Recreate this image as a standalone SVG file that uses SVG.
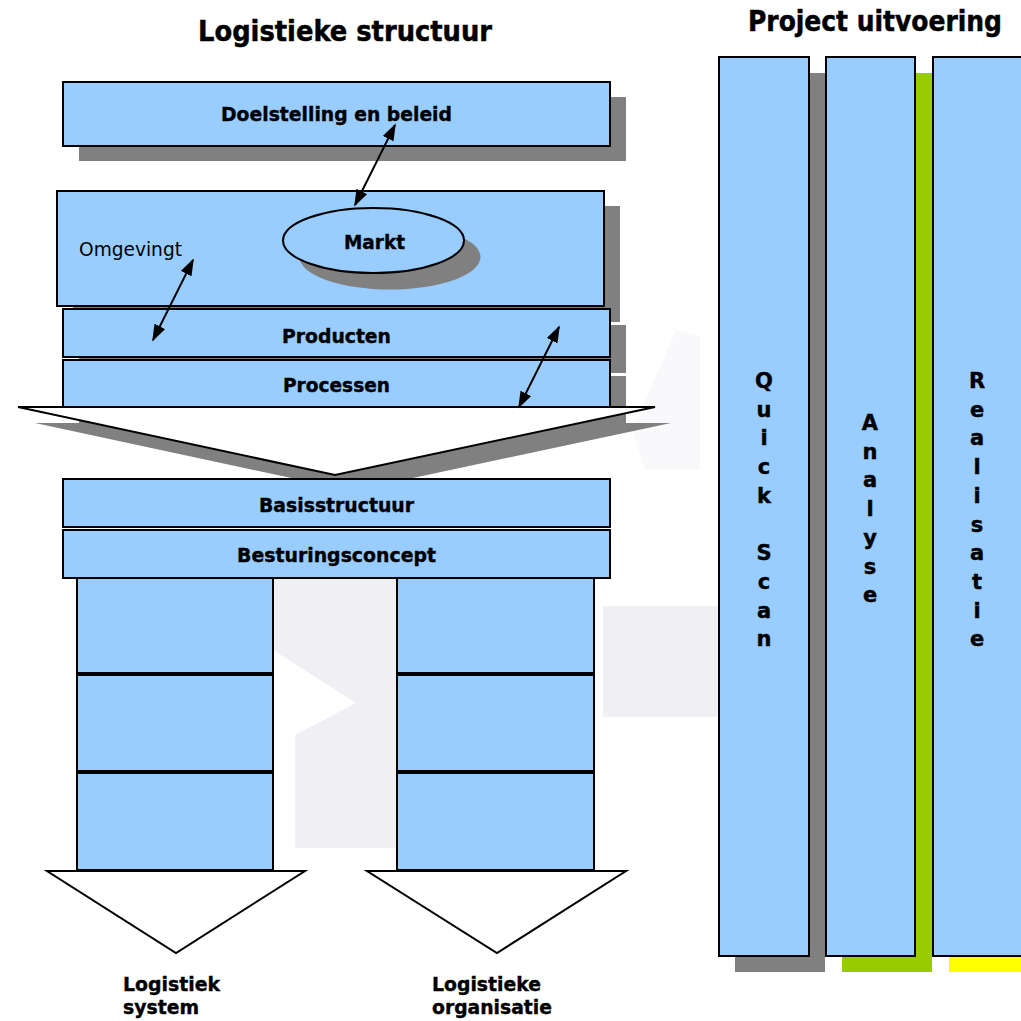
<svg xmlns="http://www.w3.org/2000/svg" width="1021" height="1021" viewBox="0 0 1021 1021">
  <defs>
    <style>
      .box { fill: #99CCFF; stroke: #000; stroke-width: 2; }
      .shadow { fill: #808080; }
      .wm { fill: #F0F0F4; }
      .white { fill: #FFFFFF; stroke: #000; stroke-width: 2; stroke-linejoin: miter; }
      .lbl { font-family: "DejaVu Sans", Verdana, sans-serif; font-weight: bold; font-size: 20px; fill: #000; stroke: #000; stroke-width: 0.4; text-anchor: middle; }
      .lblL { font-family: "DejaVu Sans", Verdana, sans-serif; font-weight: bold; font-size: 20px; fill: #000; stroke: #000; stroke-width: 0.4; }
      .reg { font-family: "DejaVu Sans", Verdana, sans-serif; font-size: 20px; fill: #000; }
      .title { font-family: "DejaVu Sans", Verdana, sans-serif; font-weight: bold; font-size: 28px; fill: #000; stroke: #000; stroke-width: 0.5; text-anchor: middle; }
      .vert { font-family: "DejaVu Sans", Verdana, sans-serif; font-weight: bold; font-size: 21px; fill: #000; stroke: #000; stroke-width: 0.4; text-anchor: middle; }
      .conn { stroke: #000; stroke-width: 2; fill: none; marker-start: url(#ah); marker-end: url(#ah); }
    </style>
    <marker id="ah" viewBox="0 0 10 7" refX="9" refY="3.5" markerWidth="17" markerHeight="12" markerUnits="userSpaceOnUse" orient="auto-start-reverse">
      <path d="M0,0 L10,3.5 L0,7 z" fill="#000"/>
    </marker>
  </defs>

  <rect width="1021" height="1021" fill="#FFFFFF"/>

  <!-- faint watermark -->
  <g id="watermark">
    <polygon class="wm" points="273,578 397,578 397,848 295,848 295,735 356,703 273,650"/>
    <polygon class="wm" points="603,606 718,606 718,717 603,717"/>
    <polygon class="wm" points="632,430 676,330 700,336 700,470 645,470" opacity="0.4"/>
  </g>

  <!-- titles -->
  <text class="title" x="345" y="41" textLength="294" lengthAdjust="spacingAndGlyphs">Logistieke structuur</text>
  <text class="title" x="875" y="31" font-size="27" textLength="254" lengthAdjust="spacingAndGlyphs">Project uitvoering</text>

  <!-- left structure -->
  <g id="doelstelling">
    <rect class="shadow" x="79" y="97" width="547" height="64"/>
    <rect class="box" x="63" y="82" width="547" height="64"/>
    <text class="lbl" x="336.5" y="121" textLength="231" lengthAdjust="spacingAndGlyphs">Doelstelling en beleid</text>
  </g>

  <g id="omgeving">
    <rect class="shadow" x="73" y="206" width="547" height="116"/>
    <rect class="box" x="57" y="191" width="547" height="115"/>
    <text class="reg" x="79" y="256" textLength="103" lengthAdjust="spacingAndGlyphs">Omgevingt</text>
  </g>

  <g id="markt">
    <ellipse class="shadow" cx="390" cy="257" rx="90.5" ry="32.5"/>
    <ellipse class="box" cx="373.5" cy="240.5" rx="90.5" ry="32.5"/>
    <text class="lbl" x="374.5" y="249" textLength="61" lengthAdjust="spacingAndGlyphs">Markt</text>
  </g>

  <g id="producten">
    <rect class="shadow" x="79" y="325" width="547" height="48"/>
    <rect class="box" x="63" y="309" width="547" height="48"/>
    <text class="lbl" x="336.5" y="343" textLength="109" lengthAdjust="spacingAndGlyphs">Producten</text>
  </g>

  <g id="processen">
    <rect class="shadow" x="79" y="376" width="547" height="48"/>
    <rect class="box" x="63" y="360" width="547" height="47"/>
    <text class="lbl" x="336.5" y="392" textLength="107" lengthAdjust="spacingAndGlyphs">Processen</text>
  </g>

  <g id="trechter">
    <polygon class="shadow" points="35,423 671,423 352,491"/>
    <polygon class="white" points="18,407 655,407 335,475"/>
  </g>

  <g id="basisstructuur">
    <rect class="box" x="63" y="479" width="547" height="48"/>
    <text class="lbl" x="336.5" y="512" textLength="155" lengthAdjust="spacingAndGlyphs">Basisstructuur</text>
  </g>

  <g id="besturingsconcept">
    <rect class="box" x="63" y="530" width="547" height="48"/>
    <text class="lbl" x="336.5" y="562" textLength="199" lengthAdjust="spacingAndGlyphs">Besturingsconcept</text>
  </g>

  <g id="kolom-links">
    <rect class="box" x="77" y="578" width="196" height="95"/>
    <rect class="box" x="77" y="675" width="196" height="96"/>
    <rect class="box" x="77" y="773" width="196" height="97"/>
  </g>

  <g id="kolom-rechts">
    <rect class="box" x="397" y="578" width="197" height="95"/>
    <rect class="box" x="397" y="675" width="197" height="96"/>
    <rect class="box" x="397" y="773" width="197" height="97"/>
  </g>

  <g id="pijl-links">
    <polygon class="white" points="47,871 305,871 176,953"/>
    <text class="lblL" x="123" y="991" textLength="97" lengthAdjust="spacingAndGlyphs">Logistiek</text>
    <text class="lblL" x="123" y="1014" textLength="76" lengthAdjust="spacingAndGlyphs">system</text>
  </g>

  <g id="pijl-rechts">
    <polygon class="white" points="367,871 626,871 497,953"/>
    <text class="lblL" x="432" y="991" textLength="109" lengthAdjust="spacingAndGlyphs">Logistieke</text>
    <text class="lblL" x="432" y="1014" textLength="120" lengthAdjust="spacingAndGlyphs">organisatie</text>
  </g>

  <!-- connectors -->
  <g id="connectors">
    <line class="conn" x1="355" y1="205" x2="395" y2="125"/>
    <line class="conn" x1="153" y1="340" x2="193" y2="260"/>
    <line class="conn" x1="519" y1="407" x2="559" y2="327"/>
  </g>

  <!-- right side: project phases -->
  <g id="quick-scan">
    <rect class="shadow" x="735" y="73" width="90" height="899"/>
    <rect class="box" x="719" y="57" width="90" height="899"/>
    <text class="vert" x="764" y="388">Q</text>
    <text class="vert" x="764" y="416.7">u</text>
    <text class="vert" x="764" y="445.4">i</text>
    <text class="vert" x="764" y="474.1">c</text>
    <text class="vert" x="764" y="502.8">k</text>
    <text class="vert" x="764" y="560.2">S</text>
    <text class="vert" x="764" y="588.9">c</text>
    <text class="vert" x="764" y="617.6">a</text>
    <text class="vert" x="764" y="646.3">n</text>
  </g>

  <g id="analyse">
    <rect x="842" y="73" width="90" height="899" fill="#99CC00"/>
    <rect class="box" x="826" y="57" width="89" height="899"/>
    <text class="vert" x="870" y="430">A</text>
    <text class="vert" x="870" y="458.7">n</text>
    <text class="vert" x="870" y="487.4">a</text>
    <text class="vert" x="870" y="516.1">l</text>
    <text class="vert" x="870" y="544.8">y</text>
    <text class="vert" x="870" y="573.5">s</text>
    <text class="vert" x="870" y="602.2">e</text>
  </g>

  <g id="realisatie">
    <rect x="949" y="73" width="90" height="899" fill="#FFFF00"/>
    <rect class="box" x="933" y="57" width="95" height="899"/>
    <text class="vert" x="977" y="388">R</text>
    <text class="vert" x="977" y="416.7">e</text>
    <text class="vert" x="977" y="445.4">a</text>
    <text class="vert" x="977" y="474.1">l</text>
    <text class="vert" x="977" y="502.8">i</text>
    <text class="vert" x="977" y="531.5">s</text>
    <text class="vert" x="977" y="560.2">a</text>
    <text class="vert" x="977" y="588.9">t</text>
    <text class="vert" x="977" y="617.6">i</text>
    <text class="vert" x="977" y="646.3">e</text>
  </g>
</svg>
